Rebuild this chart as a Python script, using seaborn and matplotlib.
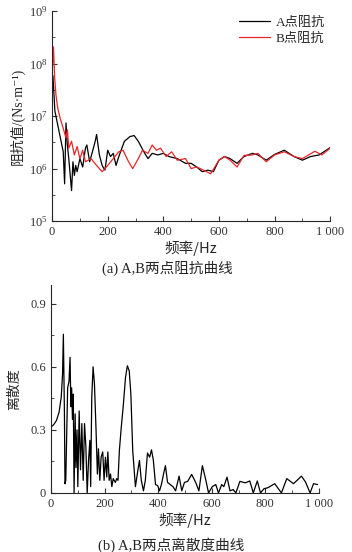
import numpy as np
import matplotlib
matplotlib.use('Agg')
import matplotlib.pyplot as plt
import seaborn as sns
from matplotlib.ticker import FixedLocator, MultipleLocator, FixedFormatter

# (a) 阻抗曲线, 频率 Hz / 阻抗 log10(Ns/m)
freq_a = [0, 3, 10, 20, 30, 40, 45, 50, 55, 60, 70, 75, 80, 85, 90, 100, 110, 120, 125, 135,
          145, 155, 160, 170, 180, 190, 200, 210, 220, 230, 240, 260, 280, 295, 310, 330, 345,
          360, 380, 400, 420, 450, 480, 500, 520, 540, 560, 580, 600, 620, 640, 665, 690, 720,
          740, 770, 800, 835, 870, 900, 930, 960, 1000]
imp_a = [7.60, 7.77, 7.10, 6.84, 6.58, 6.32, 5.71, 6.87, 6.45, 6.19, 5.58, 6.13, 5.87, 6.06, 5.94,
         6.19, 6.03, 6.39, 6.45, 6.13, 6.32, 6.52, 6.65, 6.26, 6.06, 5.97, 6.35, 6.23, 6.29, 6.06,
         6.23, 6.52, 6.61, 6.63, 6.52, 6.32, 6.19, 6.29, 6.26, 6.29, 6.23, 6.19, 6.10, 6.10, 6.03,
         5.94, 5.97, 5.94, 6.16, 6.23, 6.19, 6.10, 6.23, 6.29, 6.26, 6.16, 6.27, 6.35, 6.23, 6.16,
         6.23, 6.26, 6.40]

freq_b = [0, 5, 9, 14, 20, 30, 40, 50, 55, 60, 70, 80, 90, 100, 110, 120, 140, 160, 180, 200, 220,
          240, 255, 275, 290, 310, 325, 345, 360, 375, 390, 410, 430, 450, 480, 500, 520, 545, 570,
          600, 620, 640, 665, 690, 720, 740, 770, 800, 835, 870, 900, 945, 970, 1000]
imp_b = [7.80, 8.32, 7.75, 7.40, 7.16, 6.94, 6.77, 6.58, 6.74, 6.39, 6.52, 6.26, 6.42, 6.19, 6.35,
         6.13, 6.19, 6.06, 5.94, 6.06, 6.19, 6.32, 6.35, 6.13, 6.00, 6.19, 6.35, 6.29, 6.45, 6.35,
         6.39, 6.23, 6.32, 6.16, 6.19, 6.00, 6.03, 5.97, 5.90, 6.16, 6.23, 6.16, 6.03, 6.25, 6.26,
         6.29, 6.13, 6.26, 6.32, 6.23, 6.19, 6.33, 6.26, 6.39]

# (b) 离散度曲线
freq_d = [0, 10, 20, 30, 38, 43, 46, 50, 52, 55, 62, 67, 71, 74, 77, 80, 83, 86, 90, 93, 97, 100,
          105, 110, 115, 120, 125, 130, 135, 140, 145, 148, 152, 157, 162, 168, 173, 177, 182, 187,
          193, 198, 203, 208, 212, 217, 222, 227, 232, 240, 245, 250, 255, 262, 270, 278, 285, 292,
          298, 305, 315, 322, 330, 337, 345, 352, 360, 368, 375, 382, 390, 398, 405, 412, 420, 427,
          435, 445, 455, 465, 478, 488, 498, 510, 525, 540, 552, 565, 578, 588, 602, 615, 625, 637,
          645, 657, 668, 680, 690, 705, 725, 742, 755, 770, 782, 795, 810, 835, 860, 880, 905, 935,
          950, 967, 980, 995]
disp = [0.313, 0.325, 0.344, 0.384, 0.455, 0.566, 0.755, 0.376, 0.044, 0.06, 0.50, 0.53, 0.645,
        0.41, 0.50, 0.35, 0.47, 0.0, 0.376, 0.12, 0.30, 0.03, 0.39, 0.11, 0.33, 0.06, 0.33, 0.22,
        0.0, 0.155, 0.25, 0.03, 0.455, 0.60, 0.52, 0.30, 0.09, 0.21, 0.06, 0.17, 0.195, 0.06, 0.17,
        0.076, 0.195, 0.06, 0.09, 0.03, 0.068, 0.05, 0.068, 0.06, 0.20, 0.31, 0.42, 0.55, 0.605,
        0.58, 0.47, 0.20, 0.03, 0.09, 0.155, 0.06, 0.01, 0.06, 0.19, 0.17, 0.205, 0.155, 0.04,
        0.035, 0.01, 0.04, 0.09, 0.13, 0.05, 0.04, 0.03, 0.01, 0.08, 0.01, 0.05, 0.055, 0.088,
        0.05, 0.01, 0.13, 0.06, 0.0, 0.03, 0.04, 0.0, 0.04, 0.03, 0.075, 0.01, 0.016, 0.0, 0.055,
        0.048, 0.057, 0.0, 0.057, 0.0, 0.02, 0.025, 0.044, 0.0, 0.068, 0.044, 0.08, 0.052, 0.0,
        0.044, 0.04]

xtick_labels = ['0', '200', '400', '600', '800', '1 000']

sns.set_style('ticks')
fam = ['Liberation Serif', 'Noto Sans CJK SC', 'DejaVu Serif']
plt.rcParams['font.family'] = fam
plt.rcParams['mathtext.fontset'] = 'stix'
plt.rcParams['font.size'] = 8
plt.rcParams['axes.linewidth'] = 0.8

fig = plt.figure(figsize=(3.52, 5.52), dpi=100)
ax1 = fig.add_axes([0.148, 0.5996, 0.79, 0.380])
ax2 = fig.add_axes([0.145, 0.107, 0.761, 0.377])

sns.lineplot(x=freq_a, y=np.power(10.0, imp_a), ax=ax1, color='black', lw=0.9, label='A点阻抗')
sns.lineplot(x=freq_b, y=np.power(10.0, imp_b), ax=ax1, color='#e8262a', lw=0.9, label='B点阻抗')
ax1.set_yscale('log')
ax1.set_ylim(1e5, 1e9)
ax1.set_xlim(0, 1000)
ax1.yaxis.set_major_locator(FixedLocator([1e5, 1e6, 1e7, 1e8, 1e9]))
ax1.yaxis.set_minor_locator(FixedLocator([10 ** (k + 0.5) for k in range(5, 9)]))

sns.lineplot(x=freq_d, y=disp, ax=ax2, color='black', lw=0.9)
ax2.set_xlim(0, 1000)
ax2.set_ylim(0, 0.99)
ax2.yaxis.set_major_locator(FixedLocator([0, 0.3, 0.6, 0.9]))
ax2.yaxis.set_major_formatter(FixedFormatter(['0', '0.3', '0.6', '0.9']))
ax2.yaxis.set_minor_locator(MultipleLocator(0.15))

for ax in (ax1, ax2):
    sns.despine(ax=ax)
    ax.xaxis.set_major_locator(FixedLocator([0, 200, 400, 600, 800, 1000]))
    ax.xaxis.set_major_formatter(FixedFormatter(xtick_labels))
    ax.xaxis.set_minor_locator(MultipleLocator(100))
    ax.tick_params(which='both', direction='in', labelsize=9, colors='#333333')
    ax.tick_params(which='major', length=3.5, width=0.8)
    ax.tick_params(which='minor', length=2, width=0.6)
    ax.set_xlabel('频率/Hz', fontsize=10.5, family=['Noto Sans CJK SC'], labelpad=2)

ax1.set_ylabel('阻抗值/(Ns·m⁻¹)', fontsize=10, labelpad=3)
ax2.set_ylabel('离散度', fontsize=10, family=['Noto Sans CJK SC'], labelpad=7)

leg = ax1.legend(loc='upper right', frameon=False, fontsize=9.5, handlelength=2.4,
                 handletextpad=0.4, borderaxespad=0.0, labelspacing=0.25,
                 bbox_to_anchor=(1.0, 1.0))

fig.text(0.475, 0.514, '(a) A,B两点阻抗曲线', ha='center', va='center', fontsize=10.5)
fig.text(0.485, 0.013, '(b) A,B两点离散度曲线', ha='center', va='center', fontsize=10.5)

fig.savefig('out.png', dpi=100)
